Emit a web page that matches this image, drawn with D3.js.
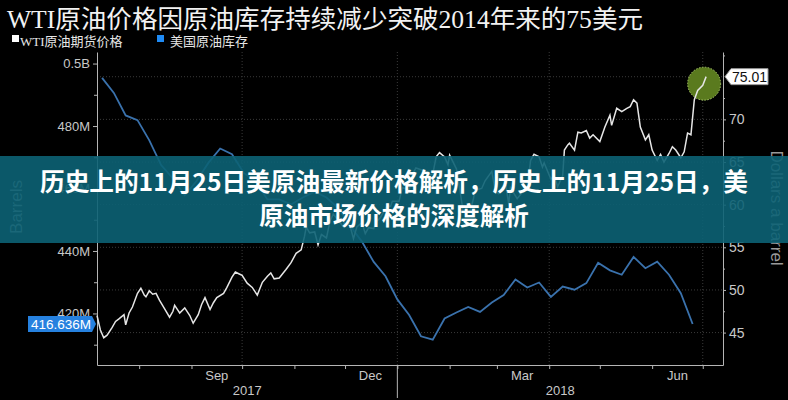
<!DOCTYPE html>
<html><head><meta charset="utf-8">
<script src="https://cdn.jsdelivr.net/npm/d3@7"></script>
<style>body{margin:0;background:#000}svg{display:block}</style>
</head><body><svg id="c" width="788" height="400"></svg>
<script>
// ---------- DATA ----------
const titleText = "WTI原油价格因原油库存持续减少突破2014年来的75美元";
const legendLabels = ["WTI原油期货价格", "美国原油库存"];
const bannerLines = ["历史上的11月25日美原油最新价格解析，历史上的11月25日，美", "原油市场价格的深度解析"];
const leftTicks = [420, 440, 460, 480, 500];
const leftMinorTicks = [410, 430, 450, 470, 490];
const rightTicks = [45, 50, 55, 60, 65, 70];
const rightMinorTicks = [47.5, 52.5, 57.5, 62.5, 67.5, 72.5, 77.5];
const gridValues = [45, 50, 55, 60, 65, 70, 75];
const monthLabels = [["2017-09-16", "Sep"], ["2017-12-16", "Dec"], ["2018-03-16", "Mar"], ["2018-06-16", "Jun"]];
const yearLabels = ["2017", "2018"];
const lastPriceLabel = "75.01";
const lastInvLabel = "416.636M";

const priceDates = ["2017-07-07","2017-07-09","2017-07-11","2017-07-13","2017-07-16","2017-07-18","2017-07-20","2017-07-23","2017-07-24","2017-07-26","2017-07-28","2017-07-31",
"2017-08-02","2017-08-04","2017-08-05","2017-08-07","2017-08-09","2017-08-11","2017-08-13","2017-08-16","2017-08-19","2017-08-21","2017-08-22","2017-08-24","2017-08-25","2017-08-28","2017-08-31",
"2017-09-02","2017-09-05","2017-09-07","2017-09-09","2017-09-12","2017-09-14","2017-09-16","2017-09-20","2017-09-22","2017-09-25","2017-09-27","2017-09-29",
"2017-10-01","2017-10-04","2017-10-07","2017-10-10","2017-10-13","2017-10-16","2017-10-18","2017-10-20","2017-10-23","2017-10-25","2017-10-27","2017-10-30",
"2017-11-02","2017-11-05","2017-11-07","2017-11-08","2017-11-10","2017-11-13","2017-11-15","2017-11-17","2017-11-20","2017-11-22","2017-11-24","2017-11-28","2017-11-30",
"2017-12-01","2017-12-04","2017-12-06","2017-12-08","2017-12-11","2017-12-13","2017-12-15","2017-12-18","2017-12-20","2017-12-22","2017-12-26","2017-12-28","2017-12-29",
"2018-01-02","2018-01-04","2018-01-08","2018-01-10","2018-01-12","2018-01-15","2018-01-17","2018-01-19","2018-01-22","2018-01-24","2018-01-26","2018-01-29","2018-01-31",
"2018-02-01","2018-02-05","2018-02-07","2018-02-09","2018-02-13","2018-02-15","2018-02-16","2018-02-20","2018-02-22","2018-02-26","2018-02-28",
"2018-03-02","2018-03-06","2018-03-08","2018-03-09","2018-03-13","2018-03-15","2018-03-19","2018-03-21","2018-03-23","2018-03-26","2018-03-28","2018-03-29",
"2018-04-02","2018-04-04","2018-04-06","2018-04-09","2018-04-10","2018-04-12","2018-04-13","2018-04-16","2018-04-18","2018-04-20","2018-04-23","2018-04-25","2018-04-27",
"2018-05-01","2018-05-04","2018-05-07","2018-05-08","2018-05-11","2018-05-14","2018-05-17","2018-05-19","2018-05-21","2018-05-23","2018-05-25","2018-05-28","2018-05-30",
"2018-06-01","2018-06-04","2018-06-06","2018-06-08","2018-06-11","2018-06-13","2018-06-15","2018-06-18","2018-06-20","2018-06-22","2018-06-24","2018-06-26","2018-06-28",
"2018-07-01","2018-07-03"];
const priceValues = [47.0,45.3,44.4,44.7,45.6,46.3,46.6,47.1,45.9,47.3,48.0,49.6,
50.2,49.4,49.2,49.9,49.5,49.6,48.8,47.8,46.8,47.5,48.2,47.6,47.3,47.9,47.0,
46.1,47.1,48.3,49.1,47.7,48.5,49.1,49.6,50.3,51.5,52.1,51.9,
51.7,50.8,50.3,49.4,50.9,51.6,52.0,51.3,51.4,51.9,52.4,53.2,
54.3,54.7,56.3,57.4,56.7,56.8,55.3,56.5,56.1,58.0,58.9,57.9,57.4,
58.4,57.5,56.0,57.4,57.9,56.6,57.3,57.2,58.1,58.5,59.9,59.8,60.4,
60.4,62.0,61.7,63.6,64.3,64.1,63.9,63.4,63.6,65.6,66.1,65.6,64.7,
65.8,64.2,61.8,59.2,59.2,60.6,61.7,61.9,62.8,63.9,61.6,
61.3,62.6,60.1,62.0,60.7,61.2,62.1,65.2,65.9,65.6,64.4,64.9,
63.0,63.4,62.1,63.4,66.4,67.0,67.2,66.4,68.5,68.4,68.7,67.8,68.2,
67.4,69.1,70.5,69.3,71.3,70.9,71.3,71.5,72.3,71.9,69.1,67.6,68.2,
66.4,65.2,65.9,65.0,66.0,66.8,66.4,65.5,66.2,68.4,68.2,72.3,73.4,
74.0,75.01];

const invStart = "2017-07-10"; // weekly series start
const invValues = [495.4,490.6,483.4,481.9,475.4,467.5,463.2,457.8,462.4,468.2,472.8,471.0,465.0,
462.2,456.5,456.5,454.9,457.1,459.0,457.1,453.7,448.1,443.0,436.5,431.9,424.5,
419.5,412.7,411.6,418.4,420.3,422.1,420.5,423.5,425.9,430.9,428.3,429.9,425.3,
428.6,427.6,429.7,436.2,433.8,432.4,438.1,434.5,436.6,432.4,426.5,416.636];

// ---------- SETUP ----------
const parse = d3.utcParse("%Y-%m-%d");
const svg = d3.select("#c");
svg.append("rect").attr("width", 788).attr("height", 400).attr("fill", "#000");

const price = priceDates.map((d, i) => ({ date: parse(d), v: priceValues[i] }));
const inv = invValues.map((v, i) => ({ date: d3.utcDay.offset(parse(invStart), 7 * i), v }));

const x = d3.scaleUtc().domain([parse("2017-07-07"), parse("2018-07-13")]).range([97, 723]);
const yL = d3.scaleLinear().domain([403.5, 503.7]).range([365, 52]);
const yR = d3.scaleLinear().domain([41.2, 77.9]).range([365, 52]);

const axisColor = "#b5b5b5", labelColor = "#c8c8c8", sans = "'Liberation Sans', Arial, sans-serif";

// grid
svg.append("g").selectAll("line").data(gridValues).join("line")
  .attr("x1", 97).attr("x2", 723).attr("y1", d => yR(d)).attr("y2", d => yR(d))
  .attr("stroke", "#3a3a3a").attr("stroke-dasharray", "1,2");
const quarterStarts = [parse("2017-10-01"), parse("2018-01-01"), parse("2018-04-01"), parse("2018-07-01")];
svg.append("g").selectAll("line").data(quarterStarts).join("line")
  .attr("x1", d => x(d)).attr("x2", d => x(d)).attr("y1", 52).attr("y2", 365)
  .attr("stroke", "#3a3a3a").attr("stroke-dasharray", "1,2");

function styleAxis(g) {
  g.selectAll("path.domain").attr("stroke", axisColor);
  g.selectAll(".tick line").attr("stroke", axisColor);
  g.selectAll(".tick text").attr("fill", labelColor).attr("font-family", sans).attr("font-size", 13);
}

// left axis
svg.append("g").attr("transform", "translate(97,0)")
  .call(d3.axisLeft(yL).tickValues(leftTicks).tickSize(4).tickSizeOuter(0).tickPadding(3)
    .tickFormat(d => d === 500 ? "0.5B" : d + "M"))
  .call(styleAxis);
svg.append("g").attr("transform", "translate(97,0)")
  .call(d3.axisLeft(yL).tickValues(leftMinorTicks).tickSize(3).tickFormat(""))
  .call(g => g.select("path.domain").remove()).call(styleAxis);

// right axis
svg.append("g").attr("transform", "translate(723,0)")
  .call(d3.axisRight(yR).tickValues(rightTicks).tickSize(3).tickSizeOuter(0).tickPadding(3))
  .call(styleAxis).call(g => g.selectAll(".tick text").attr("font-size", 14));
svg.append("g").attr("transform", "translate(723,0)")
  .call(d3.axisRight(yR).tickValues(rightMinorTicks).tickSize(2).tickFormat(""))
  .call(g => g.select("path.domain").remove()).call(styleAxis);

// bottom axis
svg.append("g").attr("transform", "translate(0,365)")
  .call(d3.axisBottom(x).ticks(d3.utcMonth.every(1)).tickSize(4).tickSizeOuter(0).tickFormat(""))
  .call(styleAxis);
const jan1 = parse("2018-01-01");
svg.append("line").attr("x1", x(jan1)).attr("x2", x(jan1)).attr("y1", 365).attr("y2", 398).attr("stroke", axisColor);
svg.append("g").selectAll("text").data(monthLabels).join("text")
  .attr("x", d => x(parse(d[0]))).attr("y", 380).attr("text-anchor", "middle")
  .attr("fill", labelColor).attr("font-family", sans).attr("font-size", 13).text(d => d[1]);
const [x0, x1] = x.range();
svg.append("g").selectAll("text").data(yearLabels).join("text")
  .attr("x", (d, i) => i === 0 ? (x0 + x(jan1)) / 2 : (x(jan1) + x1) / 2).attr("y", 395)
  .attr("text-anchor", "middle").attr("fill", labelColor).attr("font-family", sans).attr("font-size", 13).text(d => d);

// axis titles
svg.append("text").attr("transform", "translate(22,207) rotate(-90)").attr("text-anchor", "middle")
  .attr("fill", "#9a9a9a").attr("font-family", sans).attr("font-size", 17).text("Barrels");
svg.append("text").attr("transform", "translate(771,208) rotate(90)").attr("text-anchor", "middle")
  .attr("fill", "#9a9a9a").attr("font-family", sans).attr("font-size", 17).text("Dollars a barrel");

// highlight circle
const last = price[price.length - 1];
svg.append("circle").attr("cx", x(last.date) - 2).attr("cy", yR(last.v) + 7).attr("r", 16.5)
  .attr("fill", "#5a7a1e").attr("stroke", "#a9c96a").attr("stroke-dasharray", "1.5,1.5").attr("stroke-width", 1);

// lines
svg.append("path").datum(inv).attr("fill", "none").attr("stroke", "#3a72ad").attr("stroke-width", 1.8)
  .attr("d", d3.line().x(d => x(d.date)).y(d => yL(d.v)));
svg.append("path").datum(price).attr("fill", "none").attr("stroke", "#e6e6e6").attr("stroke-width", 1.5)
  .attr("d", d3.line().x(d => x(d.date)).y(d => yR(d.v)));

// last value tags
const ty = yR(last.v);
svg.append("path").attr("d", `M725,${ty} L731,${ty - 8} L768,${ty - 8} L768,${ty + 8} L731,${ty + 8} Z`)
  .attr("fill", "#fff").attr("stroke", "#999");
svg.append("text").attr("x", 749.5).attr("y", ty + 5).attr("text-anchor", "middle").attr("fill", "#111")
  .attr("font-family", sans).attr("font-size", 14).text(lastPriceLabel);
const iy = yL(invValues[invValues.length - 1]);
svg.append("path").attr("d", `M28,${iy - 8} L92,${iy - 8} L96,${iy} L92,${iy + 8} L28,${iy + 8} Z`)
  .attr("fill", "#2681df");
svg.append("text").attr("x", 61).attr("y", iy + 5).attr("text-anchor", "middle").attr("fill", "#fff")
  .attr("font-family", sans).attr("font-size", 13.5).text(lastInvLabel);

// title & legend
svg.append("text").attr("x", 7).attr("y", 28).attr("fill", "#f2f2f2")
  .attr("font-family", "'Liberation Serif', 'Noto Sans CJK SC', serif").attr("font-size", 25)
  .attr("textLength", 636).attr("lengthAdjust", "spacingAndGlyphs").text(titleText);
const legendColors = ["#ffffff", "#1f8bf5"];
const legendX = [12, 157];
const lg = svg.append("g").selectAll("g").data(legendLabels).join("g")
  .attr("transform", (d, i) => `translate(${legendX[i]},0)`);
lg.append("rect").attr("x", 0).attr("y", 35).attr("width", 7).attr("height", 7).attr("fill", (d, i) => legendColors[i]);
lg.append("text").attr("x", (d, i) => i === 0 ? 8 : 13).attr("y", 46).attr("fill", "#e6e6e6")
  .attr("font-family", "'Liberation Serif', 'Noto Sans CJK SC', serif").attr("font-size", 13).text(d => d);

// banner overlay
svg.append("rect").attr("x", 0).attr("y", 156).attr("width", 788).attr("height", 87)
  .attr("fill", "rgb(12,98,116)").attr("opacity", 0.9);
svg.append("g").selectAll("text").data(bannerLines).join("text")
  .attr("x", 394).attr("y", (d, i) => i === 0 ? 191 : 225).attr("text-anchor", "middle")
  .attr("fill", "#fff").attr("font-family", "'Noto Sans CJK SC', sans-serif").attr("font-weight", "bold")
  .attr("font-size", 24.5).each(function (d, i) { if (i === 0) d3.select(this).attr("textLength", 708).attr("lengthAdjust", "spacingAndGlyphs"); })
  .text(d => d);
</script></body></html>
